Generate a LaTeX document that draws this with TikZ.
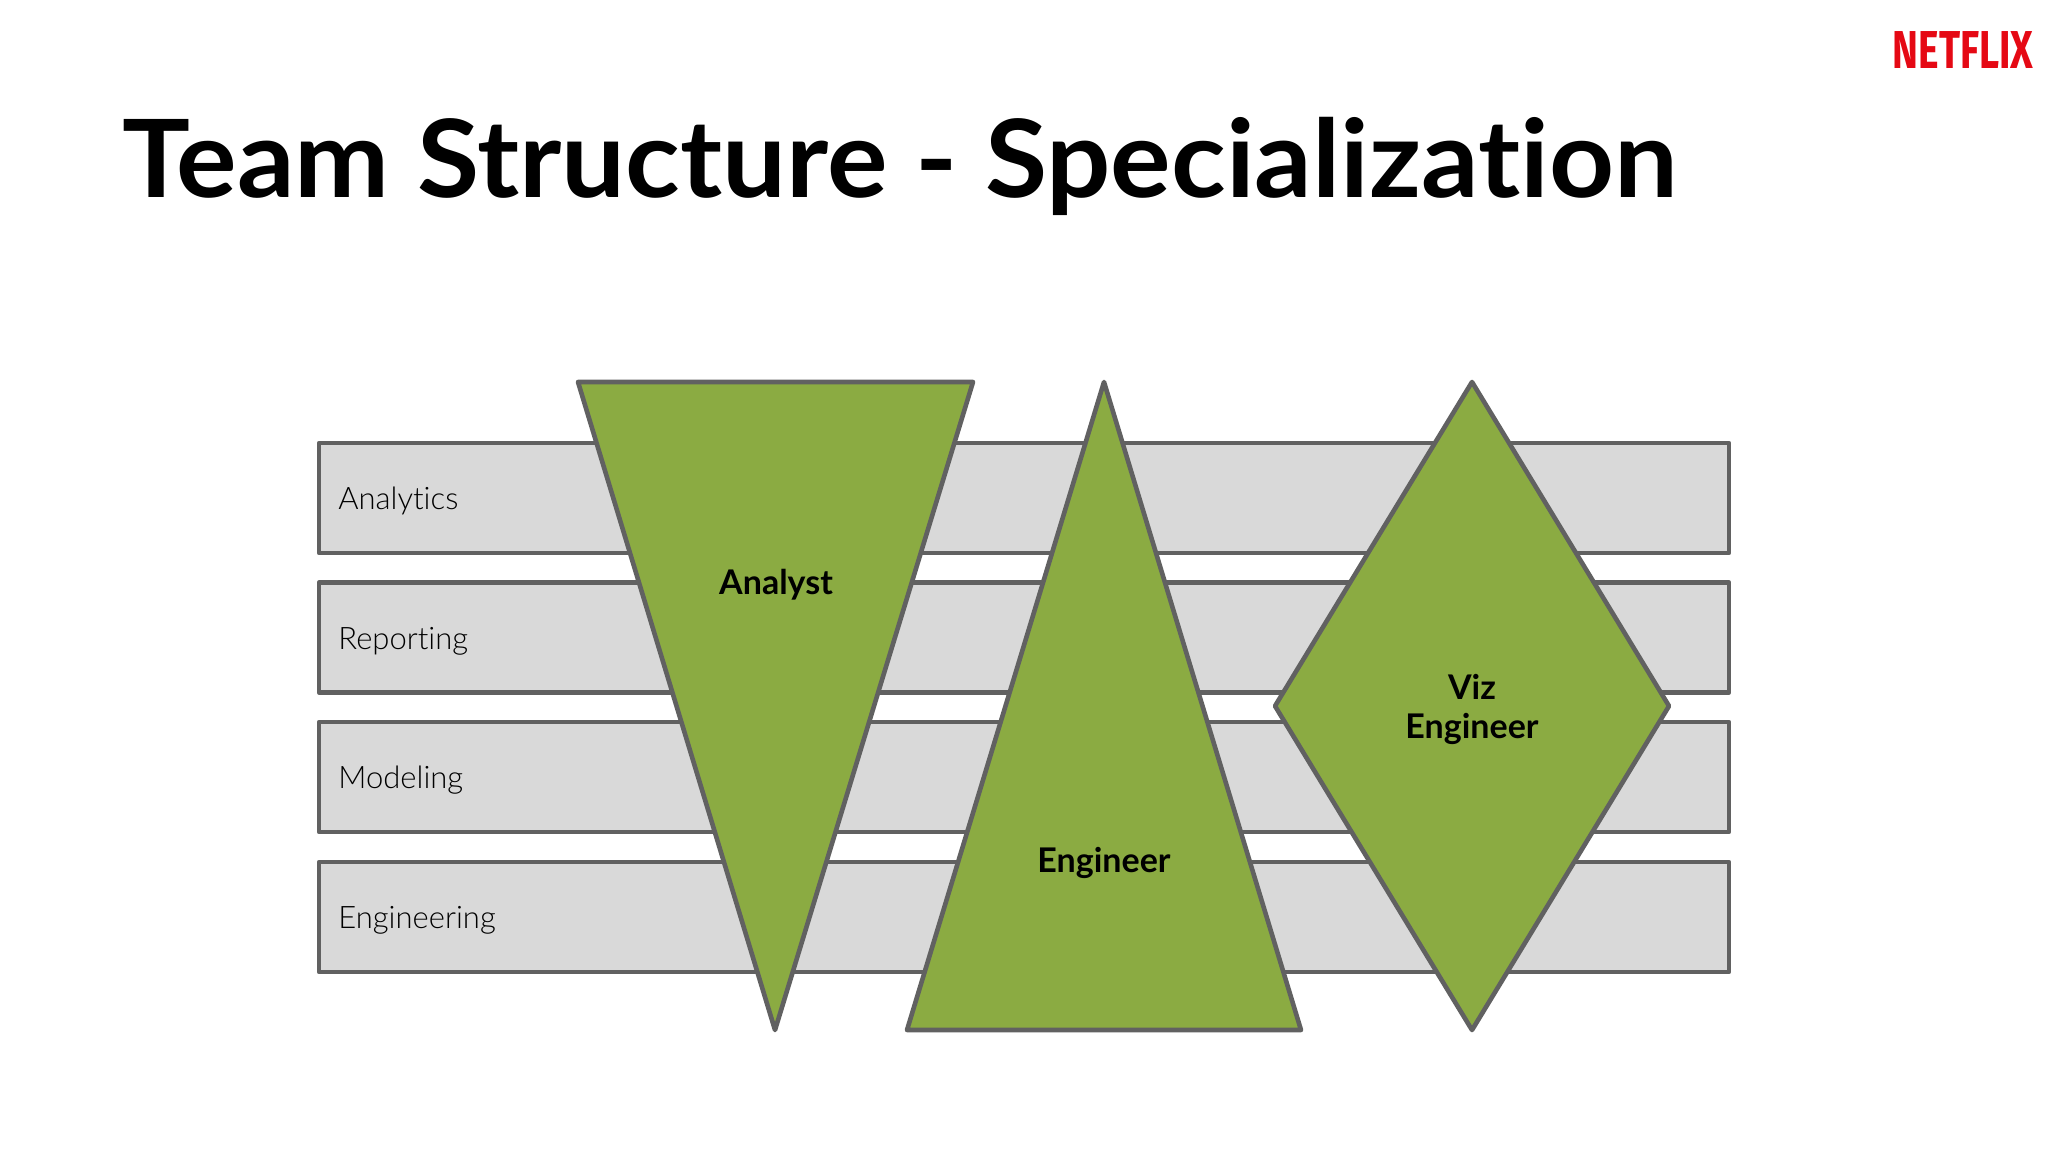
\documentclass[tikz,border=0pt]{standalone}
\usepackage{fontspec}
\usepackage{graphicx}
\setmainfont[Ligatures=NoCommon]{Lato}
\newfontfamily\thinfont[Ligatures=NoCommon]{Lato Light}
\newfontfamily\logofont{Fira Sans}
\definecolor{leaf}{HTML}{8BAB42}
\definecolor{barfill}{HTML}{D9D9D9}
\definecolor{edge}{HTML}{616161}
\definecolor{logored}{HTML}{E50914}
\tikzset{
  px/.style={x=0.5pt,y=-0.5pt},
  barbox/.style={draw=edge,fill=barfill,line width=2.3pt,line join=round,minimum width=705pt,minimum height=55pt,inner sep=0pt,outer sep=0pt},
  barlabel/.style={anchor=west,inner sep=0pt,font=\thinfont\fontsize{15.5}{18}\selectfont,text=black},
  rolebox/.style={draw=edge,fill=leaf,line width=2.3pt,line join=round},
  rolelabel/.style={inner sep=0pt,align=center,font=\fontsize{17}{19.5}\selectfont\bfseries,text=black}
}
\begin{document}
\begin{tikzpicture}[px]
\useasboundingbox (0,0) rectangle (2048,1152);
\fill[white] (0,0) rectangle (2048,1152);
\node[anchor=west,inner sep=0pt] (title) at (122,166) {\scalebox{1.05}[1]{\fontsize{54}{60}\selectfont\bfseries Team Structure - Specialization}};
\node[inner sep=0pt,text=logored] (logo) at (1963,50) {\scalebox{0.93}[1.27]{\logofont\bfseries\fontsize{21}{24}\selectfont NETFLIX}};
\node[barbox] (b1) at (1024,498) {};
\node[barbox] (b2) at (1024,637.5) {};
\node[barbox] (b3) at (1024,777) {};
\node[barbox] (b4) at (1024,917) {};
\node[barlabel] (l1) at (338,501) {Analytics};
\node[barlabel] (l2) at (338,641) {Reporting};
\node[barlabel] (l3) at (338,780.5) {Modeling};
\node[barlabel] (l4) at (338,920) {Engineering};
\draw[rolebox] (578,382) -- (973,382) -- (775,1030) -- cycle;
\draw[rolebox] (1104,382) -- (1301,1030) -- (907,1030) -- cycle;
\draw[rolebox] (1472,382) -- (1669,706) -- (1472,1030) -- (1275,706) -- cycle;
\node[rolelabel] (r1) at (776,585) {Analyst};
\node[rolelabel] (r2) at (1104,863) {Engineer};
\node[rolelabel] (r3) at (1472,709) {Viz\\Engineer};
\end{tikzpicture}
\end{document}
